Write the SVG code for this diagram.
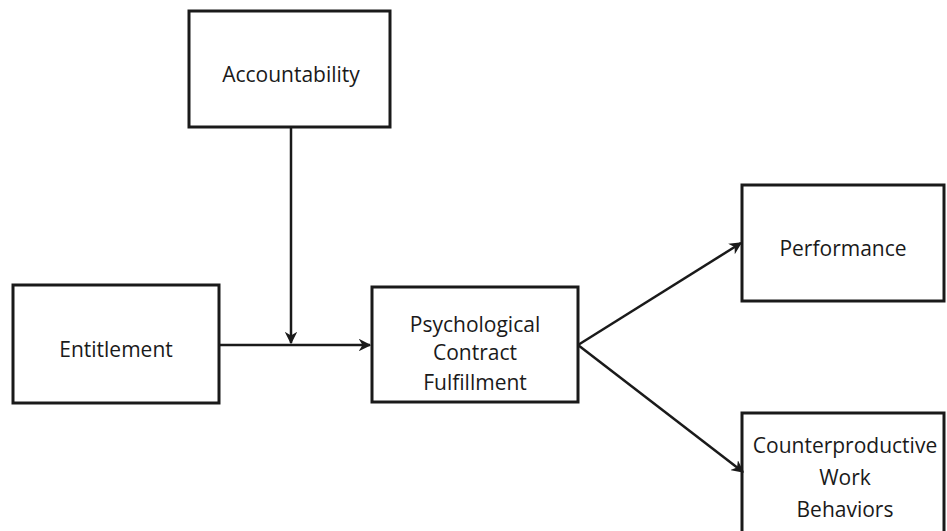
<svg xmlns="http://www.w3.org/2000/svg" width="947" height="531" viewBox="0 0 947 531">
<defs>
<style>
.box{fill:#fff;stroke:#1a1a1a;stroke-width:3}
.t{font-family:"Open Sans","Liberation Sans",sans-serif;font-size:21px;fill:#1a1a1a;text-anchor:middle}
.c{stroke:#1a1a1a;stroke-width:2.5;fill:none}
</style>
<marker id="ah" viewBox="0 0 10 10" refX="9" refY="5" markerWidth="5" markerHeight="5" orient="auto" markerUnits="strokeWidth">
<path d="M0,0 L10,5 L0,10 L3,5 Z" fill="#1a1a1a"/>
</marker>
</defs>
<rect width="947" height="531" fill="#fff"/>
<g id="accountability"><rect class="box" x="189" y="11" width="201" height="116"/><text class="t" x="291" y="82">Accountability</text></g>
<g id="entitlement"><rect class="box" x="13" y="285" width="206" height="118"/><text class="t" x="116" y="357">Entitlement</text></g>
<g id="pcf"><rect class="box" x="372" y="287" width="206" height="115"/>
<text class="t" x="475" y="332">Psychological</text><text class="t" x="475" y="360">Contract</text><text class="t" x="475" y="390">Fulfillment</text></g>
<g id="performance"><rect class="box" x="742" y="185" width="202" height="116"/><text class="t" x="843" y="256">Performance</text></g>
<g id="cwb"><rect class="box" x="742" y="413" width="202" height="124"/>
<text class="t" x="845" y="453">Counterproductive</text><text class="t" x="845" y="485">Work</text><text class="t" x="845" y="517">Behaviors</text></g>
<g id="connectors">
<line class="c" x1="291" y1="128" x2="291" y2="343" marker-end="url(#ah)"/>
<line class="c" x1="219" y1="345" x2="370" y2="345" marker-end="url(#ah)"/>
<line class="c" x1="578" y1="345" x2="741" y2="243" marker-end="url(#ah)"/>
<line class="c" x1="578" y1="345" x2="743" y2="472" marker-end="url(#ah)"/>
</g>
</svg>
